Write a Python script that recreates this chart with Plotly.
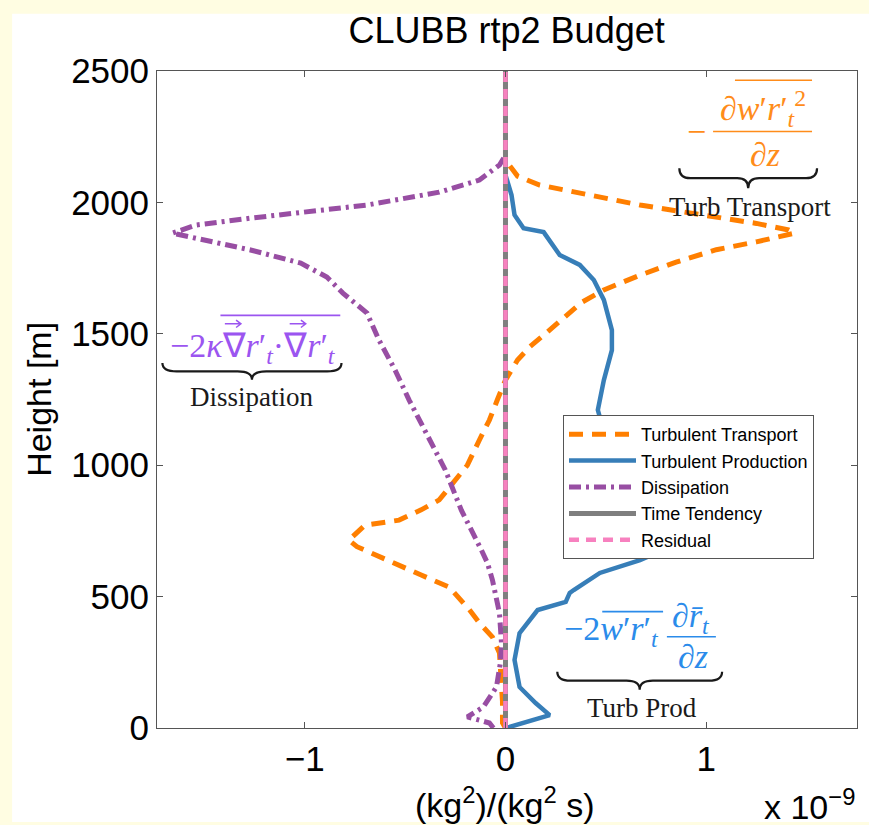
import plotly.graph_objects as go

# Budget terms for rtp2, values in units of 1e-9 (kg^2)/(kg^2 s), heights in m
z_transport = [0, 20, 100, 200, 285, 346, 400, 450, 500, 536, 582, 640, 690, 715, 745,
               772, 791, 830, 868, 940, 1000, 1096, 1172, 1250, 1324, 1400, 1450, 1495,
               1571, 1620, 1667, 1720, 1773, 1820, 1850, 1883, 1895, 1920, 1950, 1990,
               2028, 2066, 2100, 2161, 2500]
turb_transport = [0.0, -0.015, -0.015, -0.02, -0.03, -0.065, -0.13, -0.18, -0.24, -0.28,
                  -0.42, -0.60, -0.74, -0.78, -0.74, -0.70, -0.53, -0.42, -0.33, -0.25,
                  -0.19, -0.13, -0.08, -0.04, 0.0, 0.06, 0.12, 0.19, 0.30, 0.38, 0.49,
                  0.66, 0.85, 1.05, 1.25, 1.44, 1.41, 1.25, 1.00, 0.67, 0.42, 0.17, 0.06,
                  0.0, 0.0]

z_production = [0, 4, 49, 95, 156, 259, 361, 449, 480, 514, 525, 590, 639, 689, 800, 950,
                1100, 1210, 1324, 1438, 1514, 1629, 1705, 1762, 1800, 1887, 1902, 1952,
                2028, 2104, 2500]
turb_production = [0.0, 0.02, 0.22, 0.15, 0.07, 0.045, 0.07, 0.16, 0.30, 0.32, 0.34, 0.47,
                   0.67, 0.82, 0.72, 0.60, 0.50, 0.46, 0.49, 0.53, 0.53, 0.49, 0.44, 0.37,
                   0.27, 0.19, 0.09, 0.045, 0.03, 0.0, 0.0]

z_dissipation = [0, 19, 42, 80, 156, 250, 323, 437, 563, 628, 677, 829, 982, 1096, 1248,
                 1362, 1476, 1579, 1655, 1716, 1769, 1819, 1857, 1883, 1914, 1940, 1990,
                 2039, 2085, 2142, 2180, 2500]
dissipation = [-0.06, -0.08, -0.19, -0.11, -0.045, -0.025, -0.02, -0.03, -0.065, -0.09,
               -0.12, -0.22, -0.30, -0.38, -0.48, -0.55, -0.63, -0.69, -0.81, -0.89, -1.02,
               -1.27, -1.52, -1.66, -1.54, -1.27, -0.69, -0.33, -0.13, -0.03, 0.0, 0.0]

z_column = [0, 2500]
time_tendency = [0.0, 0.0]
residual = [0.0, 0.0]

x_ticks = [-1, 0, 1]
x_ticktext = ["\u22121", "0", "1"]
y_ticks = [0, 500, 1000, 1500, 2000, 2500]

ORANGE = "#FF7F00"
BLUE = "#377EB8"
PURPLE = "#984EA3"
GRAY = "#7F7F7F"
PINK = "#F781BF"

SANS = "Liberation Sans, Arial, sans-serif"
SERIF = "Liberation Serif, Times New Roman, serif"

fig = go.Figure()
fig.add_trace(go.Scatter(x=turb_transport, y=z_transport, mode="lines",
                         name="Turbulent Transport",
                         line=dict(color=ORANGE, width=5, dash="14px,9px")))
fig.add_trace(go.Scatter(x=turb_production, y=z_production, mode="lines",
                         name="Turbulent Production",
                         line=dict(color=BLUE, width=4.5)))
fig.add_trace(go.Scatter(x=dissipation, y=z_dissipation, mode="lines",
                         name="Dissipation",
                         line=dict(color=PURPLE, width=5, dash="12px,5px,3px,5px")))
fig.add_trace(go.Scatter(x=time_tendency, y=z_column, mode="lines",
                         name="Time Tendency",
                         line=dict(color=GRAY, width=5)))
fig.add_trace(go.Scatter(x=residual, y=z_column, mode="lines",
                         name="Residual",
                         line=dict(color=PINK, width=4.5, dash="10px,7px")))

annotations = []
shapes = []

# white panel on the pale yellow page
shapes.append(dict(type="rect", xref="paper", yref="paper", layer="below",
                   x0=-0.207, x1=1.02, y0=-0.143, y1=1.087,
                   fillcolor="white", line=dict(width=0)))


def text(x, y, s, color, size, family=SERIF, xanchor="center"):
    annotations.append(dict(x=x, y=y, xref="x", yref="y", text=s, showarrow=False,
                            xanchor=xanchor, yanchor="middle",
                            font=dict(family=family, size=size, color=color)))


def hline(x0, x1, y, color, width=1.6):
    shapes.append(dict(type="line", xref="x", yref="y", x0=x0, x1=x1, y0=y, y1=y,
                       line=dict(color=color, width=width)))


def vec_arrow(x0, x1, y, color):
    # small right-pointing vector arrow drawn over a nabla
    hx = (x1 - x0) * 0.3
    hy = 14
    shapes.append(dict(type="path", xref="x", yref="y",
                       path=f"M{x0},{y} L{x1},{y} M{x1 - hx},{y + hy} L{x1},{y} L{x1 - hx},{y - hy}",
                       line=dict(color=color, width=1.5)))


def brace(xl, xr, yt, yb, color="#1a1a1a"):
    xm = (xl + xr) / 2
    ym = (yt + yb) / 2
    q = (xr - xl) * 0.08
    path = (f"M{xl},{yt} Q{xl},{ym} {xl + q},{ym} L{xm - q},{ym} "
            f"Q{xm},{ym} {xm},{yb} Q{xm},{ym} {xm + q},{ym} "
            f"L{xr - q},{ym} Q{xr},{ym} {xr},{yt}")
    shapes.append(dict(type="path", xref="x", yref="y", path=path,
                       line=dict(color=color, width=2.2)))


LABEL = "#1a1a1a"

# Turbulent transport term
T_COL = "#FF8C1A"
text(0.949, 2270, "\u2212", T_COL, 34)
text(1.282, 2358, "\u2202<i>w</i>\u2032<i>r</i>\u2032<sub><i>t</i></sub><sup>2</sup>", T_COL, 34)
hline(1.143, 1.527, 2465, T_COL)
hline(1.034, 1.527, 2270, T_COL)
text(1.292, 2183, "\u2202<i>z</i>", T_COL, 34)
brace(0.866, 1.552, 2130, 2054)
text(1.217, 1981, "Turb Transport", LABEL, 27)

# Dissipation term
D_COL = "#9B55F0"
text(-1.256, 1445,
     "\u22122<i>\u03ba</i>\u2207<i>r</i>\u2032<sub><i>t</i></sub>\u00b7"
     "\u2207<i>r</i>\u2032<sub><i>t</i></sub>", D_COL, 34)
hline(-1.42, -0.823, 1570, D_COL)
vec_arrow(-1.398, -1.318, 1538, D_COL)
vec_arrow(-1.075, -0.995, 1538, D_COL)
brace(-1.709, -0.817, 1389, 1325)
text(-1.261, 1260, "Dissipation", LABEL, 27)

# Turbulent production term
P_COL = "#2B8BEA"
text(0.527, 370, "\u22122<i>w</i>\u2032<i>r</i>\u2032<sub><i>t</i></sub>", P_COL, 34)
hline(0.482, 0.785, 443, P_COL)
text(0.923, 419, "\u2202<i>r\u0304</i><sub><i>t</i></sub>", P_COL, 34)
hline(0.804, 1.048, 347, P_COL)
text(0.933, 272, "\u2202<i>z</i>", P_COL, 34)
brace(0.258, 1.079, 214, 146)
text(0.681, 77, "Turb Prod", LABEL, 27)

# axis labels and exponent
annotations.append(dict(x=0.497, y=-0.1136, xref="paper", yref="paper",
                        text="(kg<sup>2</sup>)/(kg<sup>2</sup> s)", showarrow=False,
                        xanchor="center", yanchor="middle",
                        font=dict(family=SANS, size=34, color="black")))
annotations.append(dict(x=1.0, y=-0.117, xref="paper", yref="paper",
                        text="x 10<sup>\u22129</sup>", showarrow=False,
                        xanchor="right", yanchor="middle",
                        font=dict(family=SANS, size=34, color="black")))
annotations.append(dict(x=-0.1695, y=0.5, xref="paper", yref="paper",
                        text="Height [m]", showarrow=False, textangle=-90,
                        xanchor="center", yanchor="middle",
                        font=dict(family=SANS, size=34, color="black")))

axis_common = dict(showline=True, linecolor="#555555", linewidth=1, mirror="allticks",
                   ticks="inside", ticklen=6, tickcolor="#555555", tickwidth=1,
                   showgrid=False, zeroline=False,
                   tickfont=dict(family=SANS, size=35, color="black"))

fig.update_layout(
    width=869, height=825,
    margin=dict(l=157, r=12, t=71, b=97),
    paper_bgcolor="#FFFDE2",
    plot_bgcolor="white",
    title=dict(text="CLUBB rtp2 Budget", x=0.583, xanchor="center",
               y=1 - 30 / 825, yanchor="middle",
               font=dict(family=SANS, size=36, color="black")),
    xaxis=dict(range=[-1.736, 1.751], tickvals=x_ticks, ticktext=x_ticktext,
               **axis_common),
    yaxis=dict(range=[0, 2500], tickvals=y_ticks, **axis_common),
    legend=dict(x=0.58, y=0.4764, xanchor="left", yanchor="top",
                bgcolor="white", bordercolor="#555555", borderwidth=1,
                font=dict(family=SANS, size=18, color="black"),
                itemwidth=67, tracegroupgap=0),
    showlegend=True,
    annotations=annotations,
    shapes=shapes,
)

fig.write_html("out.html")
